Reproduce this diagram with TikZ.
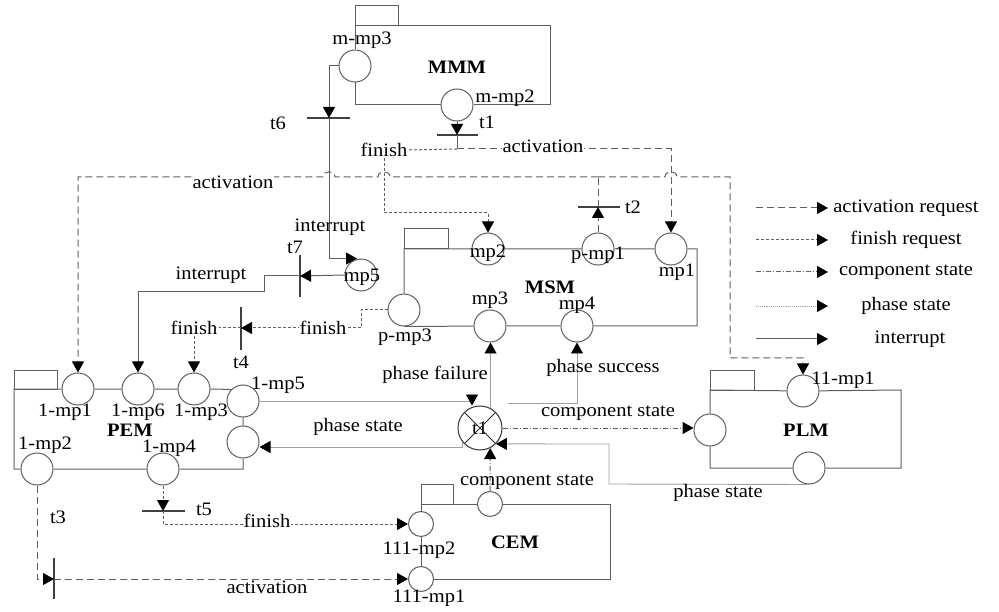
\documentclass[tikz,border=0pt]{standalone}
\usepackage{fontspec}
\setmainfont{Liberation Serif}[FakeStretch=1.08]
\usetikzlibrary{arrows.meta}
\definecolor{linegray}{RGB}{95,95,95}
\definecolor{phasegray}{RGB}{160,160,160}

\begin{document}
\begin{tikzpicture}[x=1pt, y=-1pt,
  place/.style={circle, draw=linegray, fill=white, line width=1pt,
    minimum size=32pt, inner sep=0pt},
  smallplace/.style={place, minimum size=25pt},
  xplace/.style={place, draw=black!80, minimum size=44pt,
    font=\fontsize{19}{21}\selectfont},
  boxline/.style={draw=linegray, line width=1pt},
  bar/.style={draw=black!75, line width=1.3pt},
  arr/.style={-{Triangle[length=11pt,width=12pt,color=black]}},
  actline/.style={draw=linegray, line width=1pt, dash pattern=on 7pt off 4pt},
  finline/.style={draw=linegray, line width=1pt, dash pattern=on 3pt off 2pt},
  compline/.style={draw=linegray, line width=1pt,
    dash pattern=on 5pt off 2pt on 1pt off 2pt},
  phaseline/.style={draw=phasegray, line width=0.9pt},
  intline/.style={draw=linegray, line width=1pt},
  note/.style={font=\fontsize{19}{21}\selectfont, inner sep=1pt},
  modname/.style={note, font=\fontsize{19}{21}\selectfont\bfseries},
  onnote/.style={note, fill=white}
]
\useasboundingbox (0,0) rectangle (999,612);

% places
\node[place] (mmp3) at (355,66) {};
\node[place] (mmp2) at (457,105) {};
\node[place] (mp5) at (361,275) {};
\node[place] (mp2) at (488,249) {};
\node[place] (pmp1) at (598,249) {};
\node[place] (mp1) at (671,249) {};
\node[place] (pmp3) at (404,310) {};
\node[place] (mp3) at (490,326) {};
\node[place] (mp4) at (577,326) {};
\node[place] (pemp1) at (78,389) {};
\node[place] (pemp6) at (138,389) {};
\node[place] (pemp3) at (194,389) {};
\node[place] (pemp5) at (243,401) {};
\node[place] (pemst) at (243,442) {};
\node[place] (pemp2) at (37,469) {};
\node[place] (pemp4) at (163,469) {};
\node[place] (plmp1) at (803,391) {};
\node[place] (plmin) at (710,430) {};
\node[place] (plmout) at (809,468) {};
\node[smallplace] (cemout) at (490,504) {};
\node[smallplace] (cemp2) at (421,524) {};
\node[smallplace] (cemp1) at (421,579) {};
\node[xplace] (xt) at (480,428) {t1};
\draw[black!80, line width=0.9pt] (xt.north west) -- (xt.south east);
\draw[black!80, line width=0.9pt] (xt.north east) -- (xt.south west);

% transitions
\coordinate (t1) at (457,135);
\coordinate (t2) at (598,207);
\coordinate (t3) at (54,579);
\coordinate (t4) at (241,328);
\coordinate (t5) at (163,511);
\coordinate (t6) at (329,118);
\coordinate (t7) at (300,276);
\draw[bar] (t1) ++(-20,0) -- ++(41,0);
\draw[bar] (t2) ++(-20,0) -- ++(42,0);
\draw[bar] (t3) ++(0,-21) -- ++(0,41);
\draw[bar] (t4) ++(0,-21) -- ++(0,43);
\draw[bar] (t5) ++(-21,0) -- ++(43,0);
\draw[bar] (t6) ++(-22,0) -- ++(43,0);
\draw[bar] (t7) ++(0,-21) -- ++(0,42);

% MMM
\draw[boxline] (355,6) rectangle (398,26);
\draw[boxline] (mmp3.north) -- (355,26) -- (550,26) -- (550,105) -- (mmp2);
\draw[boxline] (mmp3.south) |- (mmp2);
% MSM
\draw[boxline] (404,229) rectangle (448,249);
\draw[boxline] (pmp3) -- (404,249) -- (mp2) -- (pmp1) -- (mp1) -- (697,249)
  -- (697,326) -- (mp4) -- (mp3) -- (pmp3.south);
% PEM
\draw[boxline] (14,371) rectangle (57,389);
\draw[boxline] (pemp5.north west) -- (pemp3) -- (pemp6) -- (pemp1) -- (14,389)
  -- (14,469) -- (pemp2) -- (pemp4) -- (243,469) -- (pemst) -- (pemp5);
% CEM
\draw[boxline] (421,484) rectangle (453,504);
\draw[boxline] (cemout) -- (421,504) -- (cemp2) -- (cemp1) -- (610,579)
  -- (610,504) -- (cemout);
% PLM
\draw[boxline] (710,371) rectangle (754,390);
\draw[boxline] (plmp1) -- (710,390) -- (plmin) -- (710,468) -- (plmout)
  -- (901,468) -- (901,390) -- (plmp1);

% interrupt
\draw[intline,arr] (mmp3.west) -| (t6);
\draw[intline,arr] (t6) |- ([xshift=-4pt]mp5.north);
\draw[intline,arr] (mp5.west) -- (t7);
\draw[intline,arr] (t7) -- (264,276) -- (264,292) -| (pemp6.north);
\draw[intline,arr] (mmp2.south) -- (t1);

% finish / activation
\node[onnote] (finA) at (194,328) {finish};
\node[onnote] (finB) at (384,150) {finish};
\draw[intline] (t1) -- (457,149) coordinate (t1out);
\draw[finline] (t1out) -- (finB.east);
\draw[finline,arr] (finB.south) -- (384,213) -| (mp2.north);
\draw[actline,arr] (t1out) -| (mp1.north);
\node[onnote] (actB) at (543,146) {activation};

\draw[actline,arr] (pmp1.north) -- (t2);
\draw[actline] (t2) -- (598,177) coordinate (actsplit);
\draw[actline,arr] (actsplit) -- (665,177) .. controls (665,170) and (677,170) .. (677,177)
  -- (730,177) -- (730,358) -| (plmp1.north);
\draw[actline,arr] (actsplit) -- (390,177) .. controls (390,170) and (378,170) .. (378,177)
  -- (335,177) .. controls (335,170) and (323,170) .. (323,177) -- (78,177) -- (pemp1.north);
\node[onnote] (actA) at (233,182) {activation};

\draw[actline,arr] (pemp2.south) |- (t3);
\draw[actline,arr] (t3) -- (cemp1.west);

\draw[finline,arr] (pmp3.west) -- (361,310) -- (361,328) -- (t4);
\node[onnote] (finC) at (323,328) {finish};
\draw[finline] (t4) -- (finA.east);
\draw[finline,arr] (finA.south) -- (pemp3.north);

\draw[finline,arr] (pemp4.south) -- (t5);
\draw[finline,arr] (t5) |- (cemp2.west);
\node[onnote] (finD) at (267,521) {finish};

% phase state
\coordinate (psrc) at (508,403);
\draw[phaseline,arr] (pemp5.east) -| ([xshift=-8pt]xt.north);
\draw[phaseline,arr] (xt.62) -- (xt.62 |- mp3.south);
\draw[phaseline,arr] (psrc) -| (mp4.south);
\draw[phaseline,arr] (xt.220) |- ([yshift=-5pt]pemst.east);
\draw[phaseline,arr] (plmout.south) -- (609,484) -- (609,444) -- (xt.south east);

% component state
\draw[compline,arr] (xt.east) -- (xt.east -| plmin.west);
\draw[compline,arr] (cemout.north) -- (xt.-63);

% texts
\node[note] at (362,40) {m-mp3};
\node[modname] at (457,67) {MMM};
\node[note] at (505,98) {m-mp2};
\node[note] at (487,122) {t1};
\node[note] at (278,123) {t6};
\node[note] at (330,227) {interrupt};
\node[note] at (295,247) {t7};
\node[note] at (633,207) {t2};
\node[note] at (488,253) {mp2};
\node[note] at (598,255) {p-mp1};
\node[note] at (677,272) {mp1};
\node[modname] at (550,287) {MSM};
\node[note] at (490,300) {mp3};
\node[note] at (577,305) {mp4};
\node[note] at (405,337) {p-mp3};
\node[note] at (211,275) {interrupt};
\node[note] at (362,277) {mp5};
\node[note] at (241,362) {t4};
\node[note] at (435,375) {phase failure};
\node[note] at (603,368) {phase success};
\node[note] at (278,385) {1-mp5};
\node[note] at (65,412) {1-mp1};
\node[note] at (138,412) {1-mp6};
\node[note] at (201,412) {1-mp3};
\node[modname] at (130,430) {PEM};
\node[note] at (358,427) {phase state};
\node[note] at (45,445) {1-mp2};
\node[note] at (169,448) {1-mp4};
\node[note] at (608,413) {component state};
\node[modname] at (806,430) {PLM};
\node[note] at (843,380) {11-mp1};
\node[note] at (527,482) {component state};
\node[note] at (718,493) {phase state};
\node[note] at (204,509) {t5};
\node[note] at (58,517) {t3};
\node[modname] at (515,542) {CEM};
\node[note] at (419,550) {111-mp2};
\node[note] at (429,598) {111-mp1};
\node[note] at (267,587) {activation};

% legend
\coordinate (legA) at (756,208);
\coordinate (legB) at (756,240);
\coordinate (legC) at (756,272);
\coordinate (legD) at (756,306);
\coordinate (legE) at (756,339);
\draw[actline,arr] (legA) -- ++(72,0);
\draw[finline,arr] (legB) -- ++(72,0);
\draw[compline,arr] (legC) -- ++(72,0);
\draw[phaseline,densely dotted,arr] (legD) -- ++(72,0);
\draw[intline,arr] (legE) -- ++(72,0);
\node[note] at (906,208) {activation request};
\node[note] at (906,240) {finish request};
\node[note] at (906,272) {component state};
\node[note] at (906,306) {phase state};
\node[note] at (910,339) {interrupt};
\end{tikzpicture}
\end{document}
